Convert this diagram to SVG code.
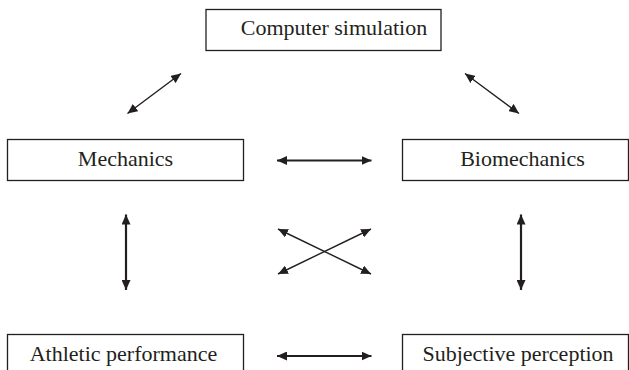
<svg xmlns="http://www.w3.org/2000/svg" width="629" height="370" viewBox="0 0 629 370">
  <style>
    .box { fill: #ffffff; stroke: #231f20; stroke-width: 1.3; }
    .label { font-family: "Liberation Serif", "Times New Roman", serif; font-size: 22px; fill: #231f20; text-anchor: middle; }
    .link { stroke: #231f20; fill: none; marker-start: url(#head); marker-end: url(#head); }
    .thin { stroke-width: 1.4; }
    .thick { stroke-width: 2.2; }
  </style>
  <defs>
    <marker id="head" markerUnits="userSpaceOnUse" markerWidth="11" markerHeight="9" viewBox="0 0 11 9" refX="10" refY="4.5" orient="auto-start-reverse">
      <path d="M0,0 L10,4.5 L0,9 Z" fill="#231f20"/>
    </marker>
  </defs>
  <rect width="629" height="370" fill="#ffffff"/>

  <g id="computer-simulation">
    <rect class="box" x="206" y="9.5" width="235" height="41"/>
    <text class="label" x="334" y="35">Computer simulation</text>
  </g>
  <g id="mechanics">
    <rect class="box" x="7.5" y="139.5" width="236" height="41"/>
    <text class="label" x="125.5" y="166">Mechanics</text>
  </g>
  <g id="biomechanics">
    <rect class="box" x="402.5" y="139.5" width="226" height="41"/>
    <text class="label" x="522.5" y="166">Biomechanics</text>
  </g>
  <g id="athletic-performance">
    <rect class="box" x="7.5" y="334.5" width="236" height="41"/>
    <text class="label" x="123.5" y="361">Athletic performance</text>
  </g>
  <g id="subjective-perception">
    <rect class="box" x="402.5" y="334.5" width="226" height="41"/>
    <text class="label" x="518" y="361">Subjective perception</text>
  </g>

  <g id="connectors">
    <line class="link thin" x1="127.5" y1="113.5" x2="181" y2="73.5"/>
    <line class="link thin" x1="465" y1="73.5" x2="519" y2="113.5"/>
    <line class="link thick" x1="277" y1="160.5" x2="371.5" y2="160.5"/>
    <line class="link thick" x1="126" y1="214.5" x2="126" y2="290"/>
    <line class="link thick" x1="521" y1="214.5" x2="521" y2="290"/>
    <line class="link thin" x1="278" y1="229" x2="371" y2="274"/>
    <line class="link thin" x1="371" y1="229" x2="278" y2="274"/>
    <line class="link thick" x1="277" y1="356" x2="371.5" y2="356"/>
  </g>
</svg>
